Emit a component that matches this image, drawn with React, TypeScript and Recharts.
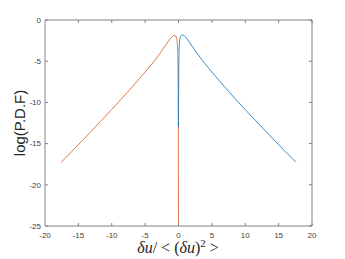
import { LineChart, Line, XAxis, YAxis } from "recharts";

const xTicks = [-20, -15, -10, -5, 0, 5, 10, 15, 20];
const yTicks = [-25, -20, -15, -10, -5, 0];

// negative increments (orange)
const negX = [-17.6, -16, -14.5, -13, -11.5, -10, -8.5, -7, -5.5, -4.5, -3.5, -2.75, -2, -1.5, -1.1, -0.85, -0.65, -0.5, -0.35, -0.22, -0.12, -0.05, 0];
const negY = [-17.3, -15.97, -14.71, -13.44, -12.15, -10.85, -9.53, -8.18, -6.79, -5.83, -4.84, -4.02, -3.14, -2.56, -2.16, -1.97, -1.86, -1.88, -2.05, -2.55, -3.8, -8, -25];

// positive increments (blue)
const posX = [0, 0.03, 0.08, 0.15, 0.25, 0.4, 0.66, 0.9, 1.2, 1.6, 2.1, 2.8, 3.6, 4.6, 5.6, 7, 8.5, 10, 11.5, 13, 14.5, 16, 17.6];
const posY = [-13, -7.5, -4.2, -2.7, -2.1, -1.9, -1.83, -1.92, -2.2, -2.66, -3.25, -4.05, -4.93, -5.93, -6.88, -8.2, -9.56, -10.88, -12.17, -13.44, -14.71, -15.97, -17.27];

const negData = negX.map((x, i) => ({ x, y: negY[i] }));
const posData = posX.map((x, i) => ({ x, y: posY[i] }));

const BOX = "#808080";
const tickFont = { fontSize: 8, fill: "#404040", fontFamily: "Liberation Sans, Arial, sans-serif" };
const noLabel = () => <g />;

const XLabel = () => (
  <text x={178} y={253} textAnchor="middle" fontSize={16} fill="#262626" fontFamily="Liberation Serif, Times New Roman, serif">
    <tspan fontStyle="italic">δu</tspan>
    <tspan>/</tspan>
    <tspan dx={4}>&lt;</tspan>
    <tspan dx={4}>(</tspan>
    <tspan fontStyle="italic">δu</tspan>
    <tspan>)</tspan>
    <tspan fontSize={11} dy={-6}>2</tspan>
    <tspan dx={4} dy={6}>&gt;</tspan>
  </text>
);

const YLabel = () => (
  <text x={19} y={123} transform="rotate(-90 19 123)" textAnchor="middle" dominantBaseline="central" fontSize={15} fill="#262626" fontFamily="Liberation Sans, Arial, sans-serif">
    log(P.D.F)
  </text>
);

export default function App() {
  return (
    <div style={{ position: "absolute", left: 0, top: 0, width: 345, height: 259, background: "#fff" }}>
      <LineChart width={345} height={259} margin={{ top: 19, right: 32, bottom: 0, left: 0 }}>
        <XAxis
          xAxisId="b"
          type="number"
          dataKey="x"
          domain={[-20, 20]}
          ticks={xTicks}
          allowDataOverflow
          height={33}
          tickSize={-3}
          tickMargin={9}
          tick={tickFont}
          axisLine={{ stroke: BOX }}
          tickLine={{ stroke: BOX }}
          label={{ content: () => <XLabel /> }}
        />
        <XAxis
          xAxisId="t"
          orientation="top"
          type="number"
          dataKey="x"
          domain={[-20, 20]}
          ticks={xTicks}
          allowDataOverflow
          height={1}
          tickSize={-3}
          tick={noLabel}
          axisLine={{ stroke: BOX }}
          tickLine={{ stroke: BOX }}
        />
        <YAxis
          yAxisId="l"
          type="number"
          domain={[-25, 0]}
          ticks={yTicks}
          allowDataOverflow
          width={45}
          tickSize={-3}
          tickMargin={7}
          tick={tickFont}
          axisLine={{ stroke: "#c4c4c4", strokeWidth: 2 }}
          tickLine={{ stroke: BOX }}
          label={{ content: () => <YLabel /> }}
        />
        <YAxis
          yAxisId="r"
          orientation="right"
          type="number"
          domain={[-25, 0]}
          ticks={yTicks}
          allowDataOverflow
          width={1}
          tickSize={-3}
          tick={noLabel}
          axisLine={{ stroke: BOX }}
          tickLine={{ stroke: BOX }}
        />
        <Line xAxisId="t" yAxisId="r" data={negData} dataKey="y" type="monotone" stroke="#D95319" strokeWidth={0.8} dot={false} isAnimationActive={false} />
        <Line xAxisId="b" yAxisId="l" data={posData} dataKey="y" type="monotone" stroke="#0072BD" strokeWidth={0.8} dot={false} isAnimationActive={false} />
      </LineChart>
    </div>
  );
}
